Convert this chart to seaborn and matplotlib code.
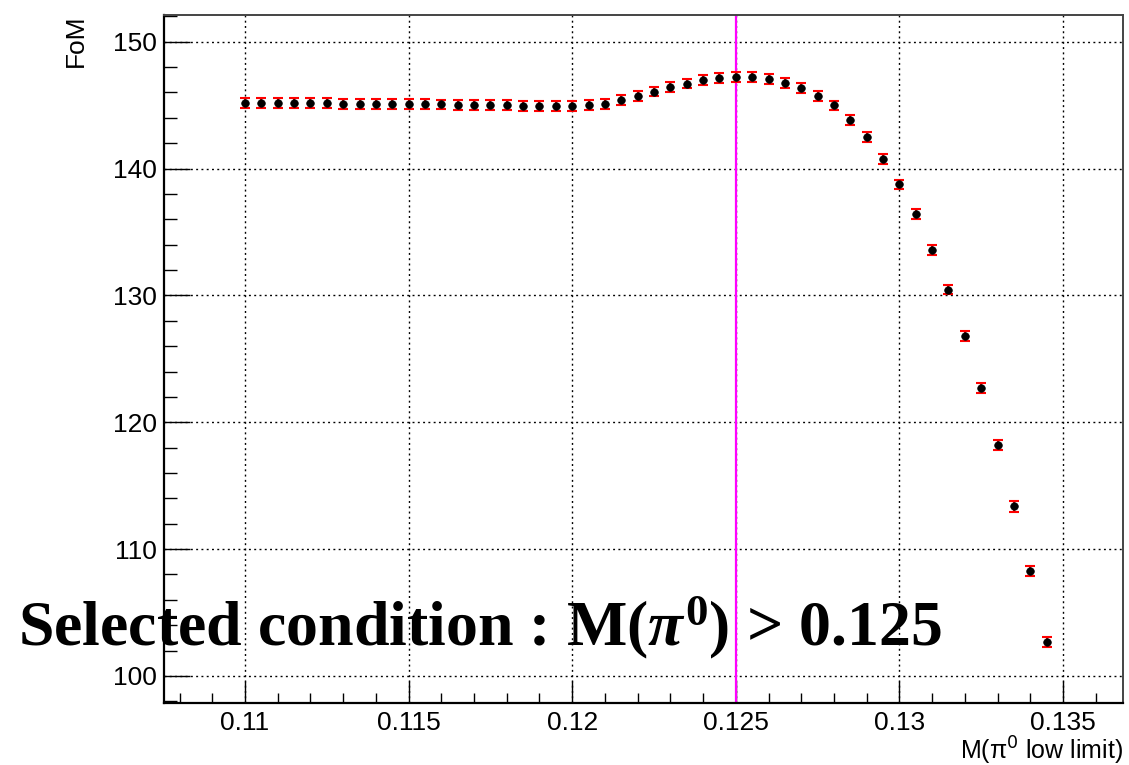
import numpy as np
import pandas as pd
import seaborn as sns
import matplotlib
matplotlib.use("Agg")
import matplotlib.pyplot as plt
from matplotlib.ticker import MultipleLocator, FuncFormatter

# Scan of the lower M(pi0) cut and the resulting figure of merit
cut_low = [0.1100, 0.1105, 0.1110, 0.1115, 0.1120, 0.1125, 0.1130, 0.1135, 0.1140, 0.1145,
           0.1150, 0.1155, 0.1160, 0.1165, 0.1170, 0.1175, 0.1180, 0.1185, 0.1190, 0.1195,
           0.1200, 0.1205, 0.1210, 0.1215, 0.1220, 0.1225, 0.1230, 0.1235, 0.1240, 0.1245,
           0.1250, 0.1255, 0.1260, 0.1265, 0.1270, 0.1275, 0.1280, 0.1285, 0.1290, 0.1295,
           0.1300, 0.1305, 0.1310, 0.1315, 0.1320, 0.1325, 0.1330, 0.1335, 0.1340, 0.1345]
fom = [145.14, 145.14, 145.14, 145.13, 145.13, 145.13, 145.12, 145.11, 145.10, 145.09,
       145.08, 145.07, 145.05, 145.04, 145.02, 145.00, 144.98, 144.95, 144.94, 144.93,
       144.93, 145.00, 145.08, 145.37, 145.69, 146.07, 146.45, 146.70, 146.99, 147.10,
       147.22, 147.20, 147.05, 146.75, 146.38, 145.75, 144.97, 143.85, 142.48, 140.73,
       138.74, 136.41, 133.60, 130.46, 126.77, 122.72, 118.22, 113.36, 108.27, 102.67]
fom_err = [0.39, 0.39, 0.39, 0.39, 0.39, 0.39, 0.39, 0.39, 0.39, 0.39,
           0.39, 0.39, 0.39, 0.39, 0.39, 0.39, 0.39, 0.39, 0.39, 0.39,
           0.39, 0.39, 0.39, 0.39, 0.39, 0.39, 0.39, 0.39, 0.39, 0.39,
           0.39, 0.39, 0.39, 0.39, 0.39, 0.39, 0.39, 0.39, 0.39, 0.39,
           0.39, 0.39, 0.39, 0.39, 0.40, 0.40, 0.40, 0.40, 0.41, 0.42]
selected_cut = 0.125

x_range = (0.107524, 0.136834)
y_range = (97.87, 152.14)
x_ticks_major, x_ticks_minor = 0.005, 0.001
y_ticks_major, y_ticks_minor = 10, 2

df = pd.DataFrame({"cut": cut_low, "fom": fom, "err": fom_err})

sns.set_theme(style="white")
plt.rcParams["font.family"] = ["Liberation Sans", "DejaVu Sans"]
plt.rcParams["text.color"] = "black"
plt.rcParams["axes.labelcolor"] = "black"
plt.rcParams["mathtext.fontset"] = "custom"
plt.rcParams["mathtext.rm"] = "Liberation Serif:bold"
plt.rcParams["mathtext.bf"] = "Liberation Serif:bold"
plt.rcParams["mathtext.it"] = "Liberation Serif:italic:bold"

fig = plt.figure(figsize=(11.29, 7.65), dpi=100)
ax = fig.add_axes([164 / 1129, 1 - 703 / 765, (1123 - 164) / 1129, (703 - 14.5) / 765])

# grid
ax.grid(True, which="major", color="black", linestyle=(0, (1.4, 2.4)), linewidth=1.0, zorder=1)

# selected cut
ax.axvline(selected_cut, color="#ff00ff", linewidth=1.6, zorder=2)

# error bars and points
ax.errorbar(df["cut"], df["fom"], yerr=df["err"], fmt="none", ecolor="red",
            elinewidth=1.5, capsize=3.5, capthick=1.5, zorder=3)
sns.scatterplot(data=df, x="cut", y="fom", ax=ax, color="black", s=30,
                edgecolor="black", linewidth=0.5, zorder=4, legend=False)

ax.set_xlim(*x_range)
ax.set_ylim(*y_range)
ax.xaxis.set_major_locator(MultipleLocator(x_ticks_major))
ax.xaxis.set_minor_locator(MultipleLocator(x_ticks_minor))
ax.yaxis.set_major_locator(MultipleLocator(y_ticks_major))
ax.yaxis.set_minor_locator(MultipleLocator(y_ticks_minor))
ax.xaxis.set_major_formatter(FuncFormatter(lambda v, p: f"{v:g}"))
ax.yaxis.set_major_formatter(FuncFormatter(lambda v, p: f"{v:g}"))

ax.tick_params(axis="both", which="both", direction="in", colors="black", width=1.0,
               labelsize=19, bottom=True, left=True, top=False, right=False)
ax.tick_params(axis="x", which="major", length=16, pad=6)
ax.tick_params(axis="x", which="minor", length=7)
ax.tick_params(axis="y", which="major", length=18.5, pad=5)
ax.tick_params(axis="y", which="minor", length=9.3)

for side in ["left", "bottom"]:
    ax.spines[side].set_color("black")
    ax.spines[side].set_linewidth(1.6)
for side in ["top", "right"]:
    ax.spines[side].set_color("#444444")
    ax.spines[side].set_linewidth(1.4)
for s in ax.spines.values():
    s.set_zorder(5)

ax.set_xlabel("M(π$^{0}$ low limit)", fontsize=18, loc="right",
              math_fontfamily="dejavusans")
ax.xaxis.set_label_coords(1.0, -0.046)
ax.set_ylabel("FoM", fontsize=19, loc="top")
ax.yaxis.set_label_coords(-0.079, 1.0)

ax.text(18 / 1129, 1 - 645 / 765, r"Selected condition : M($\pi^{\mathbf{0}}$) > 0.125",
        transform=fig.transFigure, fontsize=46, fontweight="bold",
        family=["Liberation Serif", "DejaVu Serif"], ha="left", va="baseline",
        color="black", zorder=0.5, clip_on=False)

fig.savefig("out.png", dpi=100)
